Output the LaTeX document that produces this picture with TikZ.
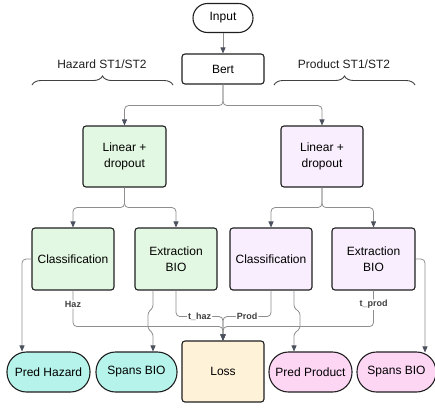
\documentclass[tikz,border=0pt]{standalone}
\usepackage{fontspec}
\setmainfont{Liberation Sans}
\usetikzlibrary{arrows.meta,decorations.pathreplacing,calc}
\definecolor{bordc}{HTML}{1F1F1F}
\definecolor{linec}{HTML}{8E8E8E}
\definecolor{arrc}{HTML}{4A505C}
\definecolor{lblc}{HTML}{3F3F3F}
\definecolor{greenf}{HTML}{E3F8E2}
\definecolor{purplef}{HTML}{F8EEFD}
\definecolor{cyanf}{HTML}{B6F3EA}
\definecolor{pinkf}{HTML}{FDD6F4}
\definecolor{lossf}{HTML}{FEF2D9}
\begin{document}
\begin{tikzpicture}[x=1pt,y=-1pt,
  box/.style={draw=bordc, line width=1.1pt, rounded corners=3pt, inner sep=0pt, align=center,
    font=\fontsize{12}{16.5}\selectfont},
  pill/.style={box, rounded corners=19.5pt, minimum height=40pt},
  conn/.style={draw=linec, line width=0.8pt, rounded corners=4pt},
  arr/.style={conn, -{Triangle[length=6pt,width=5pt,color=arrc]}},
  jog/.style={draw=linec, line width=0.8pt, rounded corners=2.5pt, -{Triangle[length=6pt,width=5pt,color=arrc]}},
  lbl/.style={fill=white, inner sep=1pt, text=lblc, font=\fontsize{9}{10}\bfseries\selectfont},
  ttl/.style={font=\fontsize{12}{14}\selectfont, text=bordc},
  brc/.style={draw=bordc!85, line width=0.9pt, decorate, decoration={brace, amplitude=9pt}}
]
\useasboundingbox (0,0) rectangle (435,408);

% nodes
\node[box, minimum width=60pt, minimum height=29pt, rounded corners=14.5pt] (input) at (223,18) {Input};
\node[box, minimum width=82pt, minimum height=30pt] (bert) at (223,69) {Bert};
\node[ttl] (hzt) at (102,64) {Hazard ST1/ST2};
\node[ttl] (prt) at (344,64) {Product ST1/ST2};

\node[box, fill=greenf, minimum width=83pt, minimum height=61pt] (linL) at (124.5,156.5) {Linear +\\dropout};
\node[box, fill=purplef, minimum width=82pt, minimum height=61pt] (linR) at (322,156.5) {Linear +\\dropout};

\node[box, fill=greenf, minimum width=82pt, minimum height=62pt] (clsL) at (73,259) {Classification};
\node[box, fill=greenf, minimum width=82pt, minimum height=62pt] (extL) at (176,259) {Extraction\\BIO};
\node[box, fill=purplef, minimum width=82pt, minimum height=62pt] (clsR) at (271,259) {Classification};
\node[box, fill=purplef, minimum width=83pt, minimum height=62pt] (extR) at (373.5,259) {Extraction\\BIO};

\node[pill, fill=cyanf, minimum width=83pt] (pH) at (48.5,372) {Pred Hazard};
\node[pill, fill=cyanf, minimum width=81pt] (sL) at (136.5,372) {Spans BIO};
\node[box, fill=lossf, minimum width=82pt, minimum height=61pt] (loss) at (223,371.5) {Loss};
\node[pill, fill=pinkf, minimum width=83pt] (pP) at (310.5,372) {Pred Product};
\node[pill, fill=pinkf, minimum width=79pt] (sR) at (396.5,372) {Spans BIO};

% braces
\draw[brc] (32,85) -- (173,85);
\draw[brc] (274,85) -- (415,85);

% connectors
\draw[arr] (input.south) -- (bert.north);
\draw[arr] (bert.south) -- ++(0,21) -| (linL.north);
\draw[arr] (bert.south) -- ++(0,21) -| (linR.north);
\draw[arr] (linL.south) -- ++(0,20) -| (clsL.north);
\draw[arr] (linL.south) -- ++(0,20) -| (extL.north);
\draw[arr] (linR.south) -- ++(0,20) -| (clsR.north);
\draw[arr] (linR.south) -- ++(0,20) -| (extR.north);

\draw[arr] (clsL.west) -| ($(pH.north)+(-26.5,0)$);
\draw[arr] (extR.east) -| ($(sR.north)+(28.5,1)$);

\draw[jog] ($(extL.south)+(-23,0)$) -- ++(0,17) -- ++(-5,5) -- ++(0,16) -- ++(5,5) -- ($(sL.north)+(16.5,0)$);
\draw[jog] ($(clsR.south)+(23,0)$) -- ++(0,17) -- ++(6,5) -- ++(0,16) -- ++(-6,5) -- ($(pP.north)+(-16.5,0)$);

\draw[arr] (clsL.south) -- node[lbl,pos=0.39]{Haz} ++(0,36) -| (loss.north);
\draw[arr] (extR.south) -- node[lbl,pos=0.39]{t\_prod} ++(0,36) -| (loss.north);
\draw[arr] (extL.south) -- ++(0,26) -- node[lbl]{t\_haz} ++(47,0) -- (loss.north);
\draw[arr] (clsR.south) -- ++(0,26) -- node[lbl]{Prod} ++(-48,0) -- (loss.north);
\end{tikzpicture}
\end{document}
